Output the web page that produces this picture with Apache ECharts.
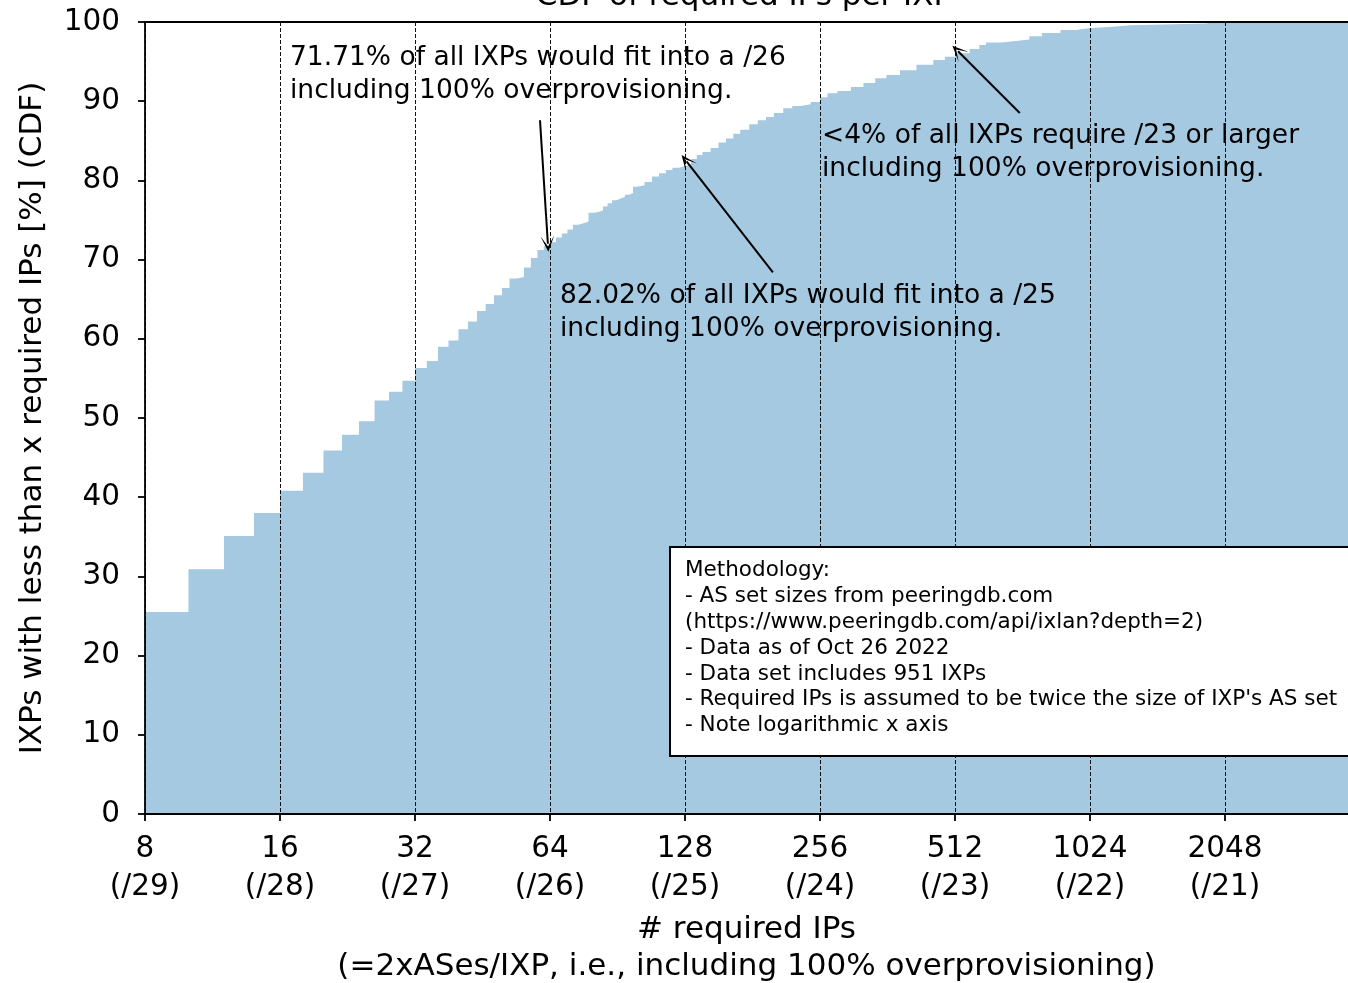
<!DOCTYPE html>
<html>
<head>
<meta charset="utf-8">
<script src="https://cdn.jsdelivr.net/npm/echarts@6/dist/echarts.min.js"></script>
<style>
html,body{margin:0;padding:0;background:#fff;}
#chart{width:1348px;height:983px;}
</style>
</head>
<body>
<div id="chart"></div>
<script>
// ---- data ----
const requiredIPs = [8,10,12,14,16,18,20,22,24,26,28,30,32,34,36,38,40,42,44,46,48,50,52,54,56,58,60,62,64,
  66,68,70,72,74,76,78,80,82,84,86,88,90,92,94,96,98,100,104,108,112,116,120,124,128,132,136,140,146,152,158,
  164,170,178,186,194,202,212,222,232,244,256,266,280,300,320,340,360,386,420,458,486,512,552,580,600,650,700,
  750,800,880,950,1016,1150,1260,1500,1850,1900,6000];
const cdfPercent = [25.5,30.9,35.1,38.0,40.8,43.1,45.9,47.9,49.6,52.2,53.3,54.7,56.3,57.2,59.0,59.8,61.2,62.2,63.5,64.4,65.5,66.4,67.6,67.8,69.0,70.2,71.2,71.71,72.2,
  72.8,73.3,73.8,74.4,74.6,74.8,75.9,76.0,76.2,76.7,77.1,77.5,77.7,77.9,78.2,78.4,79.2,79.4,79.8,80.5,80.9,81.3,81.6,81.8,82.02,82.7,83.2,83.6,84.1,84.8,85.3,
  85.9,86.4,87.1,87.6,88.0,88.5,89.1,89.4,89.6,89.9,90.5,91.0,91.3,91.8,92.3,92.9,93.3,93.9,94.6,95.2,95.6,96.05,96.6,97.1,97.4,97.6,97.8,
  98.2,98.6,99.0,99.2,99.4,99.6,99.7,99.8,99.9,100,100];
const xTickPrefix = [29,28,27,26,25,24,23,22,21,20,19];   // prefix length for 8,16,...
// annotations: arrow [from, to] in data coordinates
const arrowFrom = [[60.8, 87.6], [201, 68.4], [714, 88.5]];
const arrowTo   = [[63.3, 72.0], [129, 82.4], [520, 96.3]];
const annotationTexts = [
  '71.71% of all IXPs would fit into a /26\nincluding 100% overprovisioning.',
  '82.02% of all IXPs would fit into a /25\nincluding 100% overprovisioning.',
  '<4% of all IXPs require /23 or larger\nincluding 100% overprovisioning.'
];
const methodologyText = 'Methodology:\n- AS set sizes from peeringdb.com\n(https://www.peeringdb.com/api/ixlan?depth=2)\n- Data as of Oct 26 2022\n- Data set includes 951 IXPs\n- Required IPs is assumed to be twice the size of IXP\'s AS set\n- Note logarithmic x axis';

const FONT = '"DejaVu Sans", sans-serif';
const X_MIN = 8, X_MAX = 3851;

const seriesData = requiredIPs.map((v, i) => [v, cdfPercent[i]]);
const arrowData = arrowFrom.map((f, i) => [{coord: f}, {coord: arrowTo[i]}]);

const chart = echarts.init(document.getElementById('chart'), null, {renderer: 'canvas'});
const option = {
  animation: false,
  backgroundColor: '#ffffff',
  textStyle: {fontFamily: FONT},
  grid: {left: 145, top: 22, right: 0, bottom: 169, containLabel: false, outerBoundsMode: 'none'},
  xAxis: [{
    type: 'log', logBase: 2, min: X_MIN, max: X_MAX, splitNumber: 10,
    z: 5,
    axisLine: {show: true, lineStyle: {color: '#000', width: 1.8}},
    axisTick: {show: true, length: 7, lineStyle: {color: '#000', width: 1.8}},
    axisLabel: {
      fontFamily: FONT, fontSize: 29.5, color: '#000', lineHeight: 38, margin: 16,
      showMaxLabel: false,
      formatter: function (v) {
        const k = Math.round(Math.log2(v)) - 3;
        return Math.round(v) + '\n(/' + xTickPrefix[k] + ')';
      }
    },
    splitLine: {show: true, lineStyle: {color: '#111', width: 1, type: [4, 2]}},
    name: '# required IPs\n(=2xASes/IXP, i.e., including 100% overprovisioning)',
    nameLocation: 'middle', nameGap: 97,
    nameTextStyle: {fontFamily: FONT, fontSize: 31, color: '#000', lineHeight: 37}
  }, {
    type: 'log', logBase: 2, min: X_MIN, max: X_MAX, position: 'top', z: 5,
    axisLine: {show: true, lineStyle: {color: '#000', width: 1.8}},
    axisTick: {show: false}, axisLabel: {show: false}, splitLine: {show: false}
  }],
  yAxis: {
    type: 'value', min: 0, max: 100, interval: 10, z: 5,
    axisLine: {show: true, lineStyle: {color: '#000', width: 1.8}},
    axisTick: {show: true, length: 7, lineStyle: {color: '#000', width: 1.8}},
    axisLabel: {fontFamily: FONT, fontSize: 29.5, color: '#000', margin: 25},
    splitLine: {show: false},
    name: 'IXPs with less than x required IPs [%] (CDF)',
    nameLocation: 'middle', nameRotate: 90, nameGap: 97,
    nameTextStyle: {fontFamily: FONT, fontSize: 31, color: '#000'}
  },
  series: [{
    type: 'line', step: 'end', data: seriesData, showSymbol: false, symbol: 'none',
    lineStyle: {width: 0, opacity: 0},
    areaStyle: {color: '#a5c9e1', opacity: 1},
    clip: true, z: 2,
    markLine: {
      silent: true, animation: false,
      symbol: ['none', 'path://M0,12 L5,0 L10,12 L5,4 Z'], symbolSize: [14, 16],
      lineStyle: {color: '#000', width: 2, type: 'solid'},
      label: {show: false},
      data: arrowData
    }
  }],
  graphic: [
    {type: 'text', left: 290, top: 42, z: 100, style: {text: annotationTexts[0], font: '26.5px ' + FONT, fill: '#000', lineHeight: 33}},
    {type: 'text', left: 560, top: 280, z: 100, style: {text: annotationTexts[1], font: '26.5px ' + FONT, fill: '#000', lineHeight: 33}},
    {type: 'text', left: 822, top: 120, z: 100, style: {text: annotationTexts[2], font: '26.5px ' + FONT, fill: '#000', lineHeight: 33}},
    {type: 'rect', left: 669, top: 546, z: 100, shape: {width: 700, height: 209}, style: {fill: '#fff', stroke: '#000', lineWidth: 2}},
    {type: 'text', left: 685, top: 558, z: 101, style: {text: methodologyText, font: '21.5px ' + FONT, fill: '#000', lineHeight: 25.8}},
    {type: 'text', x: 744, y: -19, z: 100, style: {text: 'CDF of required IPs per IXP', font: '31px ' + FONT, fill: '#000', textAlign: 'center', textVerticalAlign: 'top'}}
  ]
};
chart.setOption(option);
</script>
</body>
</html>
